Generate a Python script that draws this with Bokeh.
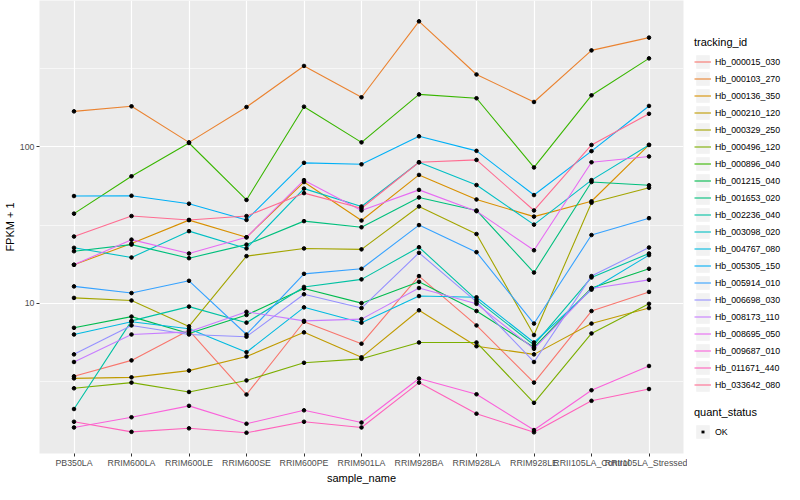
from bokeh.plotting import figure
from bokeh.layouts import row
from bokeh.models import (FactorRange, Range1d, FixedTicker, PrintfTickFormatter,
                          Legend, LegendItem)
from bokeh.embed import file_html
from bokeh.resources import INLINE

samples = ["PB350LA", "RRIM600LA", "RRIM600LE", "RRIM600SE", "RRIM600PE",
           "RRIM901LA", "RRIM928BA", "RRIM928LA", "RRIM928LE",
           "RRII105LA_Control", "RRII105LA_Stressed"]

tracking_ids = ["Hb_000015_030", "Hb_000103_270", "Hb_000136_350", "Hb_000210_120",
                "Hb_000329_250", "Hb_000496_120", "Hb_000896_040", "Hb_001215_040",
                "Hb_001653_020", "Hb_002236_040", "Hb_003098_020", "Hb_004767_080",
                "Hb_005305_150", "Hb_005914_010", "Hb_006698_030", "Hb_008173_110",
                "Hb_008695_050", "Hb_009687_010", "Hb_011671_440", "Hb_033642_080"]

colors = ["#F8766D", "#EA8331", "#D89000", "#C09B00", "#A3A500", "#7CAE00", "#39B600",
          "#00BB4E", "#00BF7D", "#00C1A3", "#00BFC4", "#00BAE0", "#00B0F6", "#35A2FF",
          "#9590FF", "#C77CFF", "#E76BF3", "#FA62DB", "#FF62BC", "#FF6C91"]

hb_000015_030 = [3.4, 4.3, 6.7, 2.6, 7.6, 5.5, 14.9, 7.2, 3.1, 8.9, 11.8]
hb_000103_270 = [169, 182, 107, 180, 330, 208, 637, 291, 194, 415, 501]
hb_000136_350 = [17.6, 24.1, 34.0, 26.4, 59.6, 33.8, 66.2, 46.1, 35.8, 44.9, 103]
hb_000210_120 = [3.3, 3.35, 3.7, 4.55, 6.5, 4.5, 9.0, 5.3, 4.7, 7.4, 9.3]
hb_000329_250 = [10.8, 10.4, 7.1, 20.0, 22.4, 22.1, 41.6, 27.7, 6.25, 43.9, 54.8]
hb_000496_120 = [2.85, 3.1, 2.7, 3.2, 4.15, 4.4, 5.6, 5.6, 2.3, 6.4, 9.9]
hb_000896_040 = [37.4, 64.9, 106, 45.8, 181, 107, 217, 205, 73.9, 214, 369]
hb_001215_040 = [6.95, 8.2, 6.4, 8.4, 12.4, 10.0, 13.7, 8.9, 5.2, 12.5, 16.6]
hb_001653_020 = [21.5, 23.7, 19.4, 23.7, 33.5, 30.6, 47.5, 39.2, 15.7, 59.6, 56.8]
hb_002236_040 = [2.1, 7.7, 9.5, 7.5, 12.7, 14.2, 22.8, 10.5, 5.4, 14.6, 20.8]
hb_003098_020 = [22.6, 19.6, 28.9, 22.4, 54.1, 41.6, 79.8, 57.0, 31.8, 61.3, 103]
hb_004767_080 = [6.3, 7.6, 6.85, 4.85, 9.4, 7.5, 11.1, 10.9, 5.6, 12.2, 20.3]
hb_005305_150 = [48.5, 48.7, 43.3, 34.1, 79.1, 77.4, 117, 94.4, 49.2, 94, 183]
hb_005914_010 = [12.8, 11.6, 13.9, 6.3, 15.4, 16.6, 31.6, 21.2, 7.4, 27.3, 35.0]
hb_006698_030 = [4.7, 7.2, 6.3, 6.1, 11.4, 9.3, 21.0, 10.2, 4.2, 14.9, 22.7]
hb_008173_110 = [4.2, 6.3, 6.55, 8.8, 7.7, 7.9, 12.5, 9.9, 5.1, 12.4, 14.1]
hb_008695_050 = [17.6, 25.5, 20.8, 26.4, 61.3, 39.2, 53.1, 38.8, 21.8, 79.8, 86.9]
hb_009687_010 = [1.6, 1.86, 2.2, 1.69, 2.06, 1.72, 3.29, 2.61, 1.54, 2.77, 3.96]
hb_011671_440 = [1.74, 1.5, 1.58, 1.48, 1.74, 1.6, 3.1, 1.96, 1.49, 2.37, 2.82]
hb_033642_080 = [26.7, 36.1, 34.1, 36.1, 50.6, 40.5, 79.8, 82.6, 39.2, 103, 163]

series = [hb_000015_030, hb_000103_270, hb_000136_350, hb_000210_120, hb_000329_250,
          hb_000496_120, hb_000896_040, hb_001215_040, hb_001653_020, hb_002236_040,
          hb_003098_020, hb_004767_080, hb_005305_150, hb_005914_010, hb_006698_030,
          hb_008173_110, hb_008695_050, hb_009687_010, hb_011671_440, hb_033642_080]

quant_status = ["OK"]
y_ticks = [10, 100]
y_minor_ticks = [3.1623, 31.623, 316.23]
y_limits = (1.09, 866)

FONT = "Liberation Sans"

p = figure(x_range=FactorRange(*samples, range_padding=0.1, range_padding_units="absolute"),
           y_axis_type="log", y_range=Range1d(*y_limits),
           frame_width=644, frame_height=453,
           min_border_left=32, min_border_right=4, min_border_top=0, min_border_bottom=31,
           output_backend="svg", toolbar_location=None,
           background_fill_color="#EBEBEB", border_fill_color="white",
           outline_line_color=None)

p.xgrid.grid_line_color = "white"
p.xgrid.grid_line_width = 1.2
p.ygrid.grid_line_color = "white"
p.ygrid.grid_line_width = 1.2
p.ygrid.minor_grid_line_color = "white"
p.ygrid.minor_grid_line_width = 0.6

p.yaxis.ticker = FixedTicker(ticks=y_ticks, minor_ticks=y_minor_ticks)
p.yaxis.formatter = PrintfTickFormatter(format="%d")

for ax in (p.xaxis[0], p.yaxis[0]):
    ax.axis_line_color = None
    ax.major_tick_line_color = "#333333"
    ax.major_tick_out = 3
    ax.major_tick_in = 0
    ax.minor_tick_line_color = None
    ax.major_label_text_font = FONT
    ax.major_label_text_font_size = "8.8px"
    ax.major_label_text_color = "#4D4D4D"
    ax.major_label_standoff = 1
    ax.axis_label_text_font = FONT
    ax.axis_label_text_font_size = "11px"
    ax.axis_label_text_font_style = "normal"
    ax.axis_label_text_color = "black"
    ax.axis_label_standoff = 1

p.xaxis.axis_label = "sample_name"
p.yaxis.axis_label = "FPKM + 1"

for vals, col in zip(series, colors):
    p.line(x=samples, y=vals, line_color=col, line_width=1.1)

all_x = [s for vals in series for s in samples]
all_y = [v for vals in series for v in vals]
p.scatter(x=all_x, y=all_y, size=3.6, marker="circle", color="black")

# ---- legend panel (separate, axis-less figure) ----
lg = figure(width=108, height=484, x_range=Range1d(0, 1), y_range=Range1d(0, 1),
            x_axis_location=None, y_axis_location=None, min_border=0,
            output_backend="svg", toolbar_location=None,
            background_fill_color="white", border_fill_color="white",
            outline_line_color=None)
lg.grid.visible = False

# glyphs kept outside the visible range: they only feed the legend keys
key_bg = lg.quad(left=[5], right=[6], bottom=[5], top=[6],
                 fill_color="#F2F2F2", line_color=None)
key_lines = [lg.line(x=[5, 6], y=[5, 6], line_color=col, line_width=1.1) for col in colors]
key_pt = lg.line(x=[5, 6], y=[5, 6], line_color="black", line_width=2.8,
                 line_dash="3 14", line_dash_offset=10)

def style_legend(l):
    l.border_line_color = None
    l.background_fill_alpha = 0
    l.padding = 0
    l.margin = 0
    l.spacing = 0
    l.glyph_width = 17
    l.glyph_height = 17
    l.label_height = 17
    l.label_standoff = 4
    l.label_text_font = FONT
    l.label_text_font_size = "8.8px"
    l.label_text_color = "black"
    l.title_text_font = FONT
    l.title_text_font_size = "11px"
    l.title_text_font_style = "normal"
    l.title_text_color = "black"
    l.title_standoff = 5

items = [LegendItem(label=tid, renderers=[key_bg, r]) for tid, r in zip(tracking_ids, key_lines)]
leg1 = Legend(items=items, title="tracking_id", location=(7, 58))
style_legend(leg1)
lg.add_layout(leg1)

leg2 = Legend(items=[LegendItem(label=quant_status[0], renderers=[key_bg, key_pt])],
              title="quant_status", location=(7, 11))
style_legend(leg2)
lg.add_layout(leg2)

layout = row(p, lg, spacing=0)
open("out.html", "w").write(file_html(layout, INLINE))
